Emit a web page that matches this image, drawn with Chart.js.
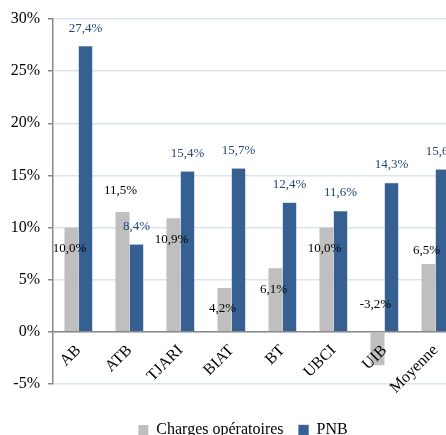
<!DOCTYPE html>
<html>
<head>
<meta charset="utf-8">
<script src="https://cdn.jsdelivr.net/npm/chart.js@4/dist/chart.umd.min.js"></script>
<style>
  html, body { margin: 0; padding: 0; background: #fff; overflow: hidden; }
  #wrap { width: 486px; height: 448px; }
</style>
</head>
<body>
<div id="wrap"><canvas id="chart" width="486" height="448"></canvas></div>
<script>
const banks = ["AB", "ATB", "TJARI", "BIAT", "BT", "UBCI", "UIB", "Moyenne"];
const charges = [10.0, 11.5, 10.9, 4.2, 6.1, 10.0, -3.2, 6.5];
const pnb = [27.4, 8.4, 15.4, 15.7, 12.4, 11.6, 14.3, 15.6];
const yTicks = [-5, 0, 5, 10, 15, 20, 25, 30];

// label offsets (px) from the end of each grey bar, as placed in the original
const chargesLabelDy = [21, -21, 21, 21, 21, 21, -61, -13];

const serif = "'Liberation Serif', 'Times New Roman', serif";

function fmt(v) {
    return v.toFixed(1).replace(".", ",") + "%";
}

const valueLabels = {
    id: "valueLabels",
    afterDatasetsDraw(chart) {
        const ctx = chart.ctx;
        ctx.save();
        ctx.font = "13px " + serif;
        ctx.textAlign = "center";
        ctx.textBaseline = "middle";
        chart.getDatasetMeta(0).data.forEach((bar, i) => {
            ctx.fillStyle = "#000";
            ctx.fillText(fmt(charges[i]), bar.x - 2, bar.y + chargesLabelDy[i]);
        });
        chart.getDatasetMeta(1).data.forEach((bar, i) => {
            ctx.fillStyle = "#24477a";
            ctx.fillText(fmt(pnb[i]), bar.x, bar.y - 18);
        });

        // category names, rotated, hanging under the zero line
        const xs = chart.scales.x;
        const zeroY = chart.scales.y.getPixelForValue(0);
        ctx.font = "16px " + serif;
        ctx.fillStyle = "#000";
        ctx.textAlign = "right";
        banks.forEach((name, i) => {
            ctx.save();
            ctx.translate(xs.getPixelForTick(i), zeroY + 16);
            ctx.rotate(-Math.PI / 4);
            ctx.fillText(name, 0, 0);
            ctx.restore();
        });
        ctx.restore();
    }
};

new Chart(document.getElementById("chart"), {
    type: "bar",
    data: {
        labels: banks,
        datasets: [{
            label: "Charges opératoires",
            data: charges,
            backgroundColor: "#bfbfbf",
            categoryPercentage: 0.55,
            barPercentage: 1
        }, {
            label: "PNB",
            data: pnb,
            backgroundColor: "#365f92",
            borderColor: "#5a7fb0",
            borderWidth: 0.5,
            categoryPercentage: 0.55,
            barPercentage: 1
        }]
    },
    options: {
        responsive: false,
        animation: false,
        layout: { padding: { top: 19, left: 0, right: 0, bottom: 0 } },
        plugins: {
            tooltip: { enabled: false },
            legend: {
                position: "bottom",
                labels: {
                    boxWidth: 10,
                    boxHeight: 10,
                    padding: 15,
                    color: "#000",
                    font: { family: serif, size: 16 }
                }
            }
        },
        scales: {
            x: {
                position: { y: 0 },
                grid: { display: false },
                border: { color: "#888", width: 1.5 },
                ticks: { display: false }
            },
            x2: {
                type: "category",
                labels: banks,
                position: "bottom",
                grid: { display: false },
                border: { display: false },
                ticks: { display: false },
                afterFit: s => { s.height = 23; }
            },
            y: {
                min: -5,
                max: 30,
                afterBuildTicks: s => { s.ticks = yTicks.map(v => ({ value: v })); },
                afterFit: s => { s.width = 53; },
                grid: {
                    color: "#dbe5f1",
                    lineWidth: 1.5,
                    tickColor: "#888",
                    tickLength: 5
                },
                border: { color: "#888", width: 1.5 },
                ticks: {
                    color: "#000",
                    padding: 8,
                    font: { family: serif, size: 16 },
                    callback: v => v + "%"
                }
            },
            y2: {
                position: "right",
                grid: { display: false },
                border: { display: false },
                ticks: { display: false },
                afterFit: s => { s.width = 25; }
            }
        }
    },
    plugins: [valueLabels]
});
</script>
</body>
</html>
